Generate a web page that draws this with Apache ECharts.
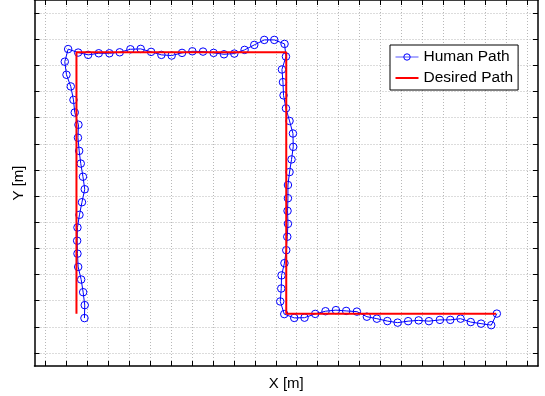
<!DOCTYPE html>
<html>
<head>
<meta charset="utf-8">
<script src="https://cdn.jsdelivr.net/npm/echarts@6/dist/echarts.min.js"></script>
<style>
html,body{margin:0;padding:0;background:#fff;}
#c{width:545px;height:396px;}
</style>
</head>
<body>
<div id="c"></div>
<script>
// Human path (measured), in grid-tick units
const humanX = [1.881,1.895,1.819,1.724,1.581,1.548,1.533,1.548,1.643,1.762,1.895,1.810,1.705,1.629,1.571,1.595,1.419,1.357,1.229,1.024,0.943,1.105,
  1.581,2.057,2.562,3.071,3.562,4.071,4.562,5.057,5.548,6.038,6.533,7.024,7.533,8.038,8.533,9.024,9.514,9.976,10.452,10.929,11.419,
  11.486,11.295,11.343,11.371,11.486,11.657,11.819,11.833,11.752,11.657,11.581,11.581,11.562,11.581,11.548,11.500,11.414,11.276,11.262,11.214,11.405,
  11.881,12.371,12.881,13.371,13.867,14.357,14.867,15.343,15.819,16.319,16.810,17.310,17.810,18.300,18.824,19.319,19.810,20.295,20.786,21.271,21.538];
const humanY = [1.333,1.828,2.323,2.807,3.290,3.797,4.292,4.798,5.282,5.765,6.261,6.740,7.243,7.730,8.233,8.728,9.197,9.680,10.194,10.640,11.139,11.622,
  11.489,11.401,11.462,11.462,11.500,11.615,11.630,11.516,11.401,11.375,11.477,11.538,11.527,11.477,11.424,11.451,11.592,11.782,11.973,11.973,11.820,
  11.337,10.842,10.358,9.852,9.356,8.873,8.393,7.883,7.403,6.919,6.424,5.918,5.434,4.939,4.444,3.930,3.435,2.966,2.464,1.969,1.485,
  1.340,1.348,1.493,1.596,1.637,1.607,1.580,1.386,1.310,1.219,1.158,1.215,1.245,1.215,1.264,1.264,1.310,1.181,1.120,1.062,1.504];
// Desired path corners
const desiredX = [1.5, 1.5, 11.5, 11.5, 21.5];
const desiredY = [1.5, 11.5, 11.5, 1.5, 1.5];
// Tick positions (no labels shown)
const xTicks = [0,1,2,3,4,5,6,7,8,9,10,11,12,13,14,15,16,17,18,19,20,21,22,23];
const yTicks = [0,1,2,3,4,5,6,7,8,9,10,11,12,13];
const seriesNames = ['Human Path', 'Desired Path'];
const xName = 'X [m]';
const yName = 'Y [m]';

const chart = echarts.init(document.getElementById('c'), null, {renderer: 'canvas'});
const font = '"Liberation Sans", Arial, sans-serif';

function mkAxis(pos, ticks, range, main) {
  return {
    type: 'value',
    position: pos,
    min: range[0], max: range[1],
    axisLine: {show: true, onZero: false, lineStyle: {color: '#000', width: 1.5}},
    axisTick: {show: true, inside: true, length: 5, customValues: ticks, lineStyle: {color: '#000', width: 1}},
    axisLabel: {show: false},
    splitLine: main ? {show: true, lineStyle: {color: '#b8b8b8', width: 1, type: [1, 2]}} : {show: false}
  };
}

const xMain = mkAxis('bottom', xTicks, [-0.5, 23.5], true);
xMain.name = xName; xMain.nameLocation = 'middle'; xMain.nameGap = 10;
xMain.nameTextStyle = {fontFamily: font, fontSize: 15, color: '#000', verticalAlign: 'top'};
const xTop = mkAxis('top', xTicks, [-0.5, 23.5], false);
const yMain = mkAxis('left', yTicks, [-0.5, 13.5], true);
yMain.name = yName; yMain.nameLocation = 'middle'; yMain.nameGap = 8; yMain.nameRotate = 90;
yMain.nameTextStyle = {fontFamily: font, fontSize: 15, color: '#000', verticalAlign: 'bottom'};
const yRight = mkAxis('right', yTicks, [-0.5, 13.5], false);

chart.setOption({
  animation: false,
  backgroundColor: '#fff',
  grid: {left: 34.5, right: 7, top: -0.5, bottom: 29.3, containLabel: false},
  xAxis: [xMain, xTop],
  yAxis: [yMain, yRight],
  legend: {
    data: [
      {name: seriesNames[0], itemStyle: {color: 'rgba(0,0,0,0)', borderColor: '#0000ff', borderWidth: 1}, lineStyle: {color: '#5555ff', width: 1}},
      {name: seriesNames[1], icon: 'path://M0,0L23,0L23,2L0,2Z', itemStyle: {color: '#ff0000'}}
    ],
    orient: 'vertical',
    left: 390, top: 45,
    itemWidth: 23, itemHeight: 8, itemGap: 5,
    padding: [4, 5, 4, 5],
    borderColor: '#000', borderWidth: 1, backgroundColor: '#fff',
    textStyle: {fontFamily: font, fontSize: 15.5, color: '#000', lineHeight: 16}
  },
  series: [
    {
      name: seriesNames[0], type: 'line',
      data: humanX.map((x, i) => [x, humanY[i]]),
      symbol: 'circle', symbolSize: 7.5,
      itemStyle: {color: 'rgba(0,0,0,0)', borderColor: '#0000ff', borderWidth: 1},
      lineStyle: {color: '#0000ff', width: 1},
      z: 2
    },
    {
      name: seriesNames[1], type: 'line',
      data: desiredX.map((x, i) => [x, desiredY[i]]),
      symbol: 'none',
      itemStyle: {color: '#ff0000'},
      lineStyle: {color: '#ff0000', width: 2},
      z: 3
    }
  ]
});
</script>
</body>
</html>
